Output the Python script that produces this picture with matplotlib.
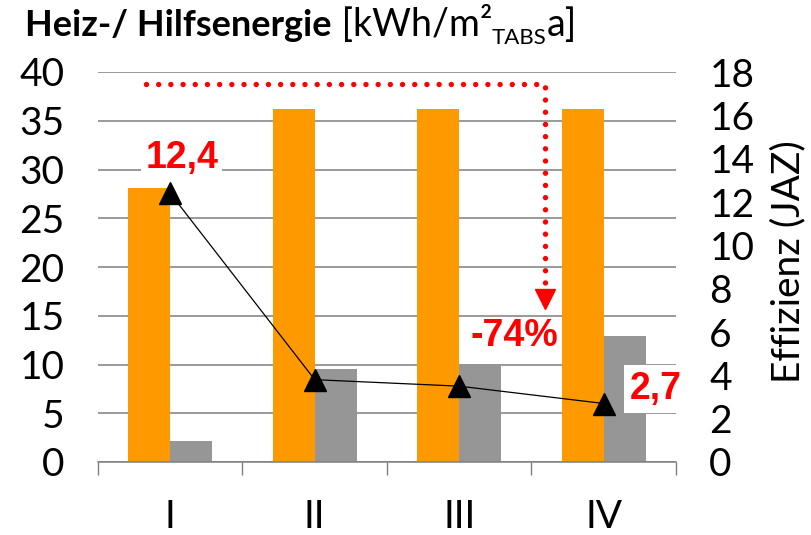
import matplotlib
matplotlib.use("Agg")
import matplotlib.pyplot as plt

plt.rcParams['font.family'] = ['Lato', 'DejaVu Sans']

categories = ['I', 'II', 'III', 'IV']
heiz = [28.1, 36.2, 36.2, 36.2]          # orange, left axis
hilfs = [2.2, 9.5, 10.1, 12.9]           # gray, left axis
jaz = [12.4, 3.8, 3.5, 2.7]              # black line, right axis
left_ticks = [0, 5, 10, 15, 20, 25, 30, 35, 40]
right_ticks = [0, 2, 4, 6, 8, 10, 12, 14, 16, 18]

ORANGE = '#FF9900'
GRAY = '#969696'
GRID = '#7f7f7f'
RED = '#FF0000'

fig = plt.figure(figsize=(8.12, 5.35), dpi=100)
ax = fig.add_axes([98 / 812, 1 - 462 / 535, 578 / 812, 390 / 535])
ax2 = ax.twinx()

x = range(len(categories))
w = 0.29
ax.bar([i - w / 2 for i in x], heiz, width=w, color=ORANGE, zorder=2)
ax.bar([i + w / 2 for i in x], hilfs, width=w, color=GRAY, zorder=2)

ax.set_xlim(-0.5, 3.5)
ax.set_ylim(0, 40)
ax.set_yticks(left_ticks)
ax.yaxis.grid(True, color=GRID, linewidth=1.1, zorder=0)
ax.set_axisbelow(True)
ax.tick_params(axis='y', length=0, pad=24, labelsize=28)

ax.set_xticks([-0.5, 0.5, 1.5, 2.5, 3.5])
ax.set_xticklabels([])
ax.set_xticks(list(x), minor=True)
ax.set_xticklabels(categories, minor=True)
ax.tick_params(axis='x', which='major', length=9, color=GRID, width=1)
ax.tick_params(axis='x', which='minor', length=0, pad=27, labelsize=28)

for s in ['top', 'left', 'right']:
    ax.spines[s].set_visible(False)
ax.spines['bottom'].set_color(GRID)
ax.spines['bottom'].set_linewidth(1.1)

ax2.plot(list(x), jaz, color='black', linewidth=0.9, marker='^',
         markersize=16, zorder=5)
ax2.set_ylim(0, 18)
ax2.set_yticks(right_ticks)
ax2.tick_params(axis='y', length=0, pad=24, labelsize=28)
for s in ax2.spines.values():
    s.set_visible(False)

# red dotted arrow
ax.plot([-0.17, 2.59, 2.59], [38.8, 38.8, 17.8], color=RED, linewidth=3.9,
        linestyle=(0, (0.001, 2.25)), dash_capstyle='round', zorder=6)
ax.plot([2.59], [16.7], marker='v', markersize=14, color=RED, zorder=6)

lbl = dict(color=RED, fontsize=27, fontweight='bold',
           family=['Liberation Sans', 'DejaVu Sans'], ha='center', va='center', zorder=7)
ax.text(0.08, 31.2, '12,4', bbox=dict(facecolor='white', edgecolor='none', pad=3), **lbl)
ax.text(2.38, 12.9, '-74%', **lbl)
ax.text(3.36, 7.5, '2,7', bbox=dict(facecolor='white', edgecolor='none', pad=4), **lbl)

# title in pieces
base_y = 1 - 36 / 535
t1 = fig.text(25 / 812, base_y, 'Heiz-/ Hilfsenergie', fontsize=26,
              fontweight='bold', va='baseline', ha='left')
fig.canvas.draw()
r = fig.canvas.get_renderer()
inv = fig.transFigure.inverted()
bb = t1.get_window_extent(r)
t2 = fig.text(inv.transform((bb.x1, 0))[0], base_y, ' [kWh/m²', fontsize=27,
              va='baseline', ha='left')
bb2 = t2.get_window_extent(r)
t3 = fig.text(inv.transform((bb2.x1, 0))[0], 1 - 44 / 535, 'TABS', fontsize=16,
              va='baseline', ha='left')
bb3 = t3.get_window_extent(r)
fig.text(inv.transform((bb3.x1, 0))[0], base_y, 'a]', fontsize=27,
         va='baseline', ha='left')

fig.text(788 / 812, 1 - 262 / 535, 'Effizienz (JAZ)', rotation=90, fontsize=28,
         ha='center', va='center')

fig.savefig('out.png', dpi=100)
